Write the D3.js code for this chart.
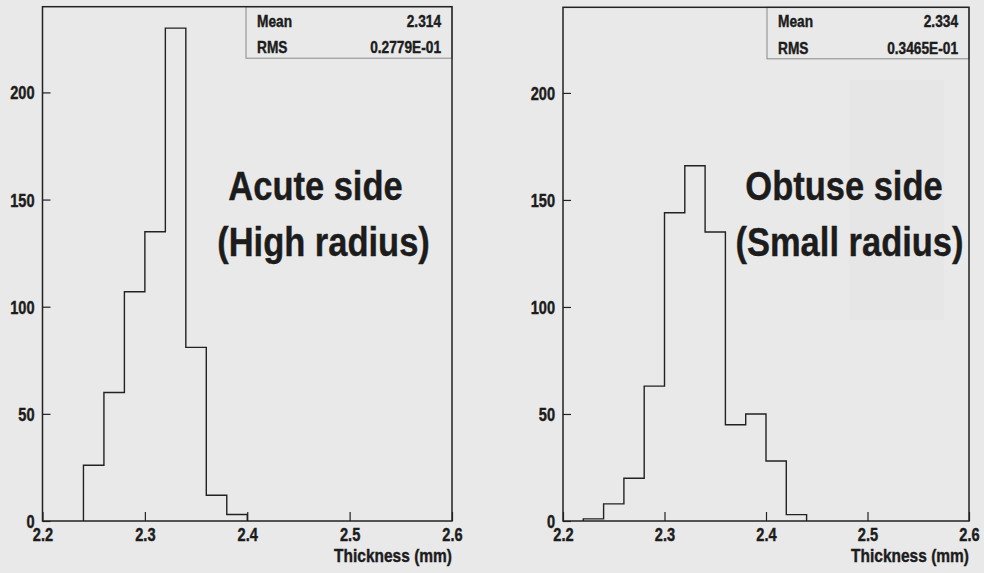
<!DOCTYPE html>
<html>
<head>
<meta charset="utf-8">
<script src="https://cdn.jsdelivr.net/npm/d3@7"></script>
<style>
  html, body { margin: 0; padding: 0; background: #e9e9e9; }
  svg { display: block; }
  text { font-family: "Liberation Sans", Arial, Helvetica, sans-serif; font-weight: bold; fill: #1c1c1c; stroke: #1c1c1c; stroke-width: 0.35px; }
</style>
</head>
<body>
<svg id="chart" width="984" height="573"></svg>
<script>
// ---------------- data ----------------
const binEdgesLeft  = [2.24, 2.26, 2.28, 2.30, 2.32, 2.34, 2.36, 2.38, 2.40];
const countsLeft    = [26, 60, 107, 135, 230, 81, 12, 3];
const binEdgesRight = [2.22, 2.24, 2.26, 2.28, 2.30, 2.32, 2.34, 2.36, 2.38, 2.40, 2.42, 2.44];
const countsRight   = [1, 8, 20, 63, 144, 166, 135, 45, 50, 28, 3];
const xTicks = [2.2, 2.3, 2.4, 2.5, 2.6];
const yTicks = [0, 50, 100, 150, 200];
const xDomain = [2.2, 2.6];
const yDomain = [0, 240];
const statsLeft  = [["Mean", "2.314"], ["RMS", "0.2779E-01"]];
const statsRight = [["Mean", "2.334"], ["RMS", "0.3465E-01"]];
const titleLeft  = ["Acute side", "(High radius)"];
const titleRight = ["Obtuse side", "(Small radius)"];
const xAxisTitle = "Thickness (mm)";

const svg = d3.select("#chart");
const SY = 1.2; // vertical stretch of the glyphs in the reference

// very faint background texture (photograph behind the plot)
const bg = svg.append("g");
bg.append("rect").attr("width", 984).attr("height", 573).attr("fill", "#e9e9e9");
bg.append("rect").attr("x", 849).attr("y", 80).attr("width", 95).attr("height", 240).attr("fill", "#e0e0e0").attr("opacity", 0.3);

function stretchedText(g, x, y, str, size, anchor) {
  return g.append("text")
    .attr("transform", `translate(${x},${y}) scale(1,${SY})`)
    .attr("font-size", size)
    .attr("text-anchor", anchor)
    .text(str);
}

function panel(cfg) {
  const { left, right, top, bottom, edges, counts, stats, title, titlePos, statsLeftX } = cfg;
  const g = svg.append("g");
  const x = d3.scaleLinear().domain(xDomain).range([left, right]);
  const y = d3.scaleLinear().domain(yDomain).range([bottom, top]);

  // stats box
  g.append("rect")
    .attr("x", statsLeftX).attr("y", top)
    .attr("width", right - statsLeftX).attr("height", 51.5)
    .attr("fill", "none").attr("stroke", "#8a8a8a").attr("stroke-width", 1);
  stats.forEach((s, i) => {
    stretchedText(g, statsLeftX + 11, top + 20 + i * 26.5, s[0], 13.7, "start");
    stretchedText(g, right - 11, top + 20 + i * 26.5, s[1], 13.7, "end");
  });

  // histogram outline
  const pts = [{ x: edges[0], y: 0 }];
  counts.forEach((c, i) => {
    pts.push({ x: edges[i], y: c });
    pts.push({ x: edges[i + 1], y: c });
  });
  pts.push({ x: edges[edges.length - 1], y: 0 });
  const line = d3.line().x(d => x(d.x)).y(d => y(d.y));
  g.append("path").attr("d", line(pts))
    .attr("fill", "none").attr("stroke", "#222").attr("stroke-width", 1.4);

  // axes
  const yAxis = d3.axisLeft(y).tickValues(yTicks).tickSizeInner(-8).tickSizeOuter(0).tickPadding(9);
  const ya = g.append("g").attr("transform", `translate(${left},0)`).call(yAxis);
  ya.select(".domain").remove();
  ya.selectAll(".tick line").attr("stroke", "#222").attr("stroke-width", 1.2);
  ya.selectAll(".tick text")
    .attr("x", null).attr("dy", null)
    .attr("transform", `translate(-8,6.5) scale(1,${SY})`)
    .attr("font-size", 14.6).attr("font-family", null).attr("fill", "#1c1c1c");

  const xAxis = d3.axisBottom(x).tickValues(xTicks).tickFormat(d3.format(".1f")).tickSizeInner(-9).tickSizeOuter(0);
  const xa = g.append("g").attr("transform", `translate(0,${bottom})`).call(xAxis);
  xa.select(".domain").remove();
  xa.selectAll(".tick line").attr("stroke", "#222").attr("stroke-width", 1.2);
  xa.selectAll(".tick text")
    .attr("y", null).attr("dy", null)
    .attr("transform", `translate(0,20) scale(1,${SY})`)
    .attr("font-size", 14.6).attr("font-family", null).attr("fill", "#1c1c1c");

  // frame
  g.append("rect").attr("x", left).attr("y", top)
    .attr("width", right - left).attr("height", bottom - top)
    .attr("fill", "none").attr("stroke", "#222").attr("stroke-width", 1.5);

  // axis title
  stretchedText(g, right, bottom + 41, xAxisTitle, 15.5, "end");

  // big label
  stretchedText(g, titlePos[0][0], titlePos[0][1], title[0], 34.5, "middle");
  stretchedText(g, titlePos[1][0], titlePos[1][1], title[1], 34.5, "middle");
}

panel({
  left: 42.5, right: 452, top: 6.7, bottom: 521,
  edges: binEdgesLeft, counts: countsLeft, stats: statsLeft,
  statsLeftX: 246, title: titleLeft,
  titlePos: [[315.5, 200], [323.5, 256]]
});
panel({
  left: 563, right: 969, top: 7.3, bottom: 521,
  edges: binEdgesRight, counts: countsRight, stats: statsRight,
  statsLeftX: 767, title: titleRight,
  titlePos: [[844, 200], [849.5, 256]]
});
</script>
</body>
</html>
